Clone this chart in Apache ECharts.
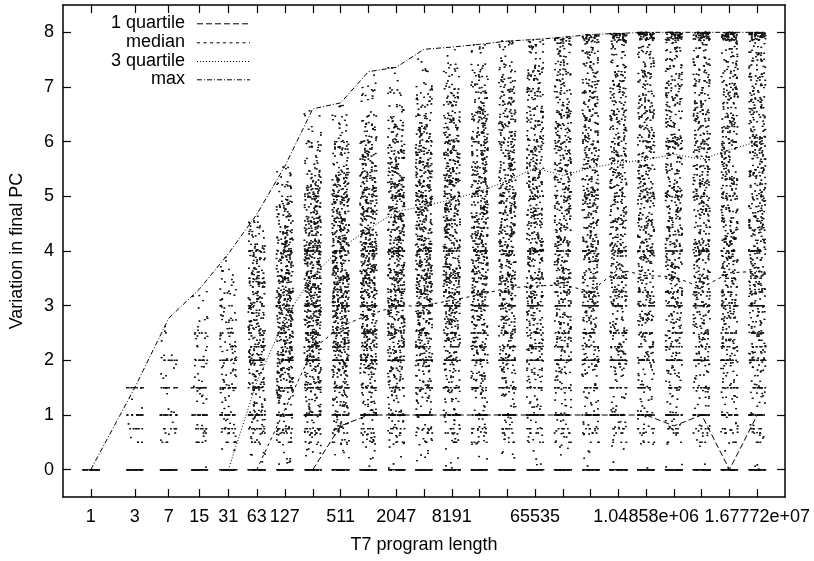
<!DOCTYPE html>
<html><head><meta charset="utf-8">
<script src="https://cdn.jsdelivr.net/npm/echarts@6/dist/echarts.min.js"></script>
<style>html,body{margin:0;padding:0;background:#fff}#c{width:814px;height:561px}</style>
</head><body><div id="c"></div>
<script>
// ---- data ----
const lengths = [1,3,7,15,31,63,127,255,511,1023,2047,4095,8191,16383,32767,65535,131071,262143,524287,1048575,2097151,4194303,8388607,16777215];
const tickLabelValues = [1,3,7,15,31,63,127,511,2047,8191,65535,1048575,16777215];
const tickLabelTexts = ['1','3','7','15','31','63','127','511','2047','8191','65535','1.04858e+06','1.67772e+07'];
const yTicks = [0,1,2,3,4,5,6,7,8];
const q1     = [null,null,null,null,null,null,null,0,0.8,1,1,1,1,1,1,1,1,1,1,1,0.8,1,0,1];
const median = [null,null,null,null,null,0,1.1,2.2,2.62,2.83,2.99,3.0,3.1,3.2,3.32,3.36,3.38,3.26,3.66,3.55,3.53,3.33,3.6,3.63];
const q3     = [null,null,null,null,0,1.6,2.75,3.55,4.05,4.4,4.72,4.82,4.94,5.09,5.28,5.52,5.38,5.52,5.61,5.67,5.77,5.68,5.85,6.0];
const maxv   = [0,1.5,2.77,3.3,3.95,4.67,5.55,6.6,6.71,7.28,7.36,7.69,7.73,7.78,7.84,7.87,7.91,7.96,7.98,8,8,8,8,8];
// discrete values at which many runs coincide, and how many dots sit on each, per column
const LEVELS = [0,0.5,0.67,0.75,1,1.5,2,2.25,2.5,3,3.25,3.5,4,5,6];
const LONG_LV = [45,3,3,5,20,11,18,7,7,14,5,5,10,4,3];
const levelCounts = [
  [45],
  [45,3,0,6,12,10],
  [45,3,2,6,14,9,7],
  [45,4,2,6,15,10,9,2,2],
  [45,4,3,7,16,12,10,3,3,3],
  [45,5,3,7,18,12,12,4,4,5,2,2,3],
  [45,4,3,6,18,11,14,5,6,9,3,3,6,2],
  LONG_LV,LONG_LV,LONG_LV,LONG_LV,LONG_LV,LONG_LV,LONG_LV,LONG_LV,LONG_LV,
  LONG_LV,LONG_LV,LONG_LV,LONG_LV,LONG_LV,LONG_LV,LONG_LV,LONG_LV
];
// remaining dots per column, counted in 0.5-wide bands from 0 to 8
const BAND = 0.5;
const cloudCounts = [
  [],
  [0,2,2,1],
  [0,3,5,5,4,3],
  [1,5,8,10,10,8,4],
  [3,10,14,18,20,20,16,8],
  [6,16,28,40,48,48,48,40,28,6],
  [8,20,36,48,60,64,64,60,52,36,16,3],
  [8,20,32,48,60,68,72,72,68,60,44,20,8,2],
  [8,20,32,44,56,64,72,72,68,64,52,32,16,4],
  [6,16,28,40,52,60,68,68,68,64,56,44,28,12,3],
  [6,16,24,36,48,56,64,68,68,64,60,48,32,16,4],
  [6,14,24,32,44,52,60,64,64,64,60,52,40,24,10,1],
  [5,13,22,30,40,48,56,60,60,60,58,52,44,32,16,2],
  [5,12,20,28,36,44,50,54,56,56,54,50,44,36,24,4],
  [4,11,18,26,34,40,46,50,52,52,50,48,44,38,28,8],
  [4,10,16,24,30,36,42,46,48,48,46,45,42,38,32,14],
  [4,10,14,22,28,34,40,44,46,46,45,44,42,38,34,20],
  [4,10,14,21,27,32,38,42,44,45,44,43,42,38,35,24],
  [3,8,13,19,26,30,36,40,42,43,43,42,40,38,35,27],
  [3,8,13,19,26,30,36,40,42,43,43,42,40,38,35,27],
  [3,8,13,19,26,30,36,40,42,43,43,42,40,38,35,27],
  [3,8,13,19,26,30,36,40,42,43,43,42,40,38,35,27],
  [3,8,13,19,26,30,36,40,42,43,43,42,40,38,35,27],
  [3,8,13,19,26,30,36,40,42,43,43,42,40,38,35,27]
];
// dots crowded just under the maximum
const capCounts = [0,0,0,0,0,0,0,0,0,0,0,0,0,4,6,10,18,28,38,48,48,48,48,48];

// ---- build dots (deterministic horizontal jitter and spread inside each band) ----
const JIT = 0.3; // log2 units
const hash = (a, b, c) => { const s = Math.sin(a * 12.9898 + b * 78.233 + c * 37.719) * 43758.5453; return s - Math.floor(s); };
const dots = [];
lengths.forEach((len, k) => {
  const top = maxv[k];
  (levelCounts[k] || []).forEach((n, li) => {
    for (let i = 0; i < n; i++) {
      const j = (hash(k, li + 100, i) * 2 - 1) * JIT;
      dots.push([len * Math.pow(2, j), LEVELS[li]]);
    }
  });
  (cloudCounts[k] || []).forEach((n, b) => {
    const lo = b * BAND, hi = Math.min((b + 1) * BAND, top);
    if (hi <= lo) return;
    for (let i = 0; i < n; i++) {
      const y = lo + (hi - lo) * hash(k + 0.5, b, i + 0.25);
      const j = (hash(k, b + 0.5, i + 7.3) * 2 - 1) * JIT;
      dots.push([len * Math.pow(2, j), y]);
    }
  });
  for (let i = 0; i < capCounts[k]; i++) {
    const y = top - 0.15 * Math.pow(hash(k, 300, i), 1.5);
    const j = (hash(k, 301, i) * 2 - 1) * JIT;
    dots.push([len * Math.pow(2, j), y]);
  }
});

const pair = arr => lengths.map((x, i) => [x, arr[i]]);

const FONT = 'Liberation Sans, Arial, Helvetica, sans-serif';
const xBase = {
  type: 'log', logBase: 2, min: 0.5, max: 33554432,
  axisLine: { show: true, onZero: false, lineStyle: { color: '#000', width: 1.5 } },
  axisTick: { show: true, inside: true, length: 8, customValues: lengths, lineStyle: { color: '#000', width: 1.2 } },
  splitLine: { show: false }, minorTick: { show: false }
};
const yBase = {
  type: 'value', min: -0.5, max: 8.5,
  axisLine: { show: true, onZero: false, lineStyle: { color: '#000', width: 1.5 } },
  axisTick: { show: true, inside: true, length: 8, customValues: yTicks, lineStyle: { color: '#000', width: 1.2 } },
  splitLine: { show: false }
};

const chart = echarts.init(document.getElementById('c'), null, { renderer: 'canvas' });
const LW = 1;
chart.setOption({
  animation: false,
  backgroundColor: '#fff',
  textStyle: { fontFamily: FONT },
  grid: { left: 62, right: 29, top: 5, bottom: 64 },
  xAxis: [
    Object.assign({}, xBase, {
      position: 'bottom',
      name: 'T7 program length', nameLocation: 'middle', nameGap: 39,
      nameTextStyle: { fontSize: 18, color: '#000', fontFamily: FONT },
      axisLabel: {
        customValues: tickLabelValues, margin: 11, fontSize: 18, color: '#000', fontFamily: FONT,
        formatter: v => { const i = tickLabelValues.findIndex(t => Math.abs(t - v) / t < 1e-6); return i >= 0 ? tickLabelTexts[i] : ''; }
      }
    }),
    Object.assign({}, xBase, { position: 'top', axisLabel: { show: false } })
  ],
  yAxis: [
    Object.assign({}, yBase, {
      position: 'left',
      name: 'Variation in final PC', nameLocation: 'middle', nameGap: 37, nameRotate: 90,
      nameTextStyle: { fontSize: 18, color: '#000', fontFamily: FONT },
      axisLabel: { customValues: yTicks, margin: 9, fontSize: 18, color: '#000', fontFamily: FONT }
    }),
    Object.assign({}, yBase, { position: 'right', axisLabel: { show: false } })
  ],
  series: [
    { type: 'scatter', name: 'runs', data: dots, large: true, largeThreshold: 1000,
      symbol: 'rect', symbolSize: [1.6, 1.2], itemStyle: { color: '#111' }, silent: true, z: 1 },
    { type: 'line', name: '1 quartile', data: pair(q1), symbol: 'none', connectNulls: false,
      lineStyle: { color: '#000', width: LW, type: [6, 3] }, z: 3 },
    { type: 'line', name: 'median', data: pair(median), symbol: 'none', connectNulls: false,
      lineStyle: { color: '#000', width: LW, type: [3, 3.5] }, z: 3 },
    { type: 'line', name: '3 quartile', data: pair(q3), symbol: 'none', connectNulls: false,
      lineStyle: { color: '#000', width: LW, type: [1, 2] }, z: 3 },
    { type: 'line', name: 'max', data: pair(maxv), symbol: 'none', connectNulls: false,
      lineStyle: { color: '#000', width: LW, type: [5, 2, 1, 2] }, z: 3 }
  ],
  graphic: (function () {
    const names = ['1 quartile', 'median', '3 quartile', 'max'];
    const dashes = [[6, 3], [3, 3.5], [1, 2], [5, 2, 1, 2]];
    const ys = [23.3, 42.3, 61, 79.3];
    const els = [];
    names.forEach((n, i) => {
      els.push({ type: 'text', x: 185, y: ys[i], style: { text: n, textAlign: 'right', textVerticalAlign: 'middle', font: '18px ' + FONT, fill: '#000' } });
      els.push({ type: 'line', shape: { x1: 197, y1: ys[i] + 0.5, x2: 250, y2: ys[i] + 0.5 }, style: { stroke: '#000', lineWidth: 1, lineDash: dashes[i] } });
    });
    return els;
  })()
});
</script></body></html>
